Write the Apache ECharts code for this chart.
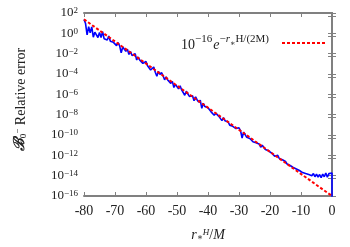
<!DOCTYPE html>
<html><head><meta charset="utf-8">
<script src="https://cdn.jsdelivr.net/npm/echarts@6/dist/echarts.min.js"></script>
<style>html,body{margin:0;padding:0;background:#fff}#c{width:350px;height:247px}</style>
</head><body><div id="c"></div>
<script>
// Blue: measured relative error
const blueX = [
 -80,-79.5,-79,-78.5,-78,-77.5,-77,-76.5,-76,-75.5,
 -75,-74.5,-74,-73.5,-73,-72.5,-72,-71.5,-71,-70.5,
 -70,-69.5,-69,-68.5,-68,-67.5,-67,-66.5,-66,-65.5,
 -65,-64.5,-64,-63.5,-63,-62.5,-62,-61.5,-61,-60.5,
 -60,-59.5,-59,-58.5,-58,-57.5,-57,-56.5,-56,-55.5,
 -55,-54.5,-54,-53.5,-53,-52.5,-52,-51.5,-51,-50.5,
 -50,-49.5,-49,-48.5,-48,-47.5,-47,-46.5,-46,-45.5,
 -45,-44.5,-44,-43.5,-43,-42.5,-42,-41.5,-41,-40.5,
 -40,-39.5,-39,-38.5,-38,-37.5,-37,-36.5,-36,-35.5,
 -35,-34.5,-34,-33.5,-33,-32.5,-32,-31.5,-31,-30.5,
 -30,-29.5,-29,-28.5,-28,-27.5,-27,-26.5,-26,-25.5,
 -25,-24.5,-24,-23.5,-23,-22.5,-22,-21.5,-21,-20.5,
 -20,-19.5,-19,-18.5,-18,-17.5,-17,-16.5,-16,-15.5,
 -15,-14.5,-14,-13.5,-13,-12.5,-12,-11.5,-11,-10.5,
 -10,-9.5,-9,-8.5,-8,-7.5,-7,-6.5,-6,-5.5,
 -5,-4.5,-4,-3.5,-3,-2.5,-2,-1.5,-1,-0.5,0,
 0
];
const blueY = [
 23,9.1,0.71,4.5,1.1,4.3,0.42,1.3,1.6,0.39,
 1.2,0.38,1.5,0.29,0.45,0.22,0.54,0.17,0.26,0.13,
 0.18,0.062,0.12,0.059,0.012,0.046,0.056,0.017,0.027,0.0083,
 0.016,0.0065,0.0079,0.0098,0.0024,0.0047,0.0023,0.0035,0.0011,0.0014,
 1.7e-3,6.6e-4,8.1e-4,2.5e-4,3.9e-4,4.9e-4,1.5e-4,5.9e-5,1.8e-4,8.9e-5,
 1.4e-4,6.8e-5,2.7e-5,5.2e-5,2.6e-5,4.0e-5,1.2e-5,1.9e-5,4.7e-6,9.3e-6,
 9.1e-6,3.5e-6,6.9e-6,2.7e-6,2.6e-6,8.1e-7,2.0e-6,2.0e-6,6.2e-7,7.6e-7,
 7.4e-7,2.3e-7,5.6e-7,2.8e-7,1.7e-7,2.7e-7,4.2e-8,1.3e-7,6.3e-8,7.8e-8,
 4.9e-8,6.0e-8,1.9e-8,2.9e-8,8.9e-9,1.4e-8,1.7e-8,6.8e-9,8.3e-9,2.6e-9,
 5.0e-9,2.5e-9,3.8e-9,1.9e-9,9.3e-10,1.4e-9,7.1e-10,1.1e-9,4.3e-10,4.2e-10,
 5.1e-10,2.6e-10,5.0e-11,1.9e-10,1.9e-10,5.9e-11,9.1e-11,4.5e-11,5.6e-11,2.2e-11,
 3.4e-11,1.7e-11,2.6e-11,1.3e-11,6.2e-12,9.8e-12,7.6e-12,3.7e-12,5.8e-12,2.8e-12,
 3.5e-12,1.7e-12,2.1e-12,8.3e-13,1.0e-12,1.0e-12,4.9e-13,6.0e-13,3.7e-13,3.7e-13,
 2.5e-13,1.4e-13,1.8e-13,1.0e-13,1.1e-13,6.3e-14,7.9e-14,4.5e-14,5.6e-14,3.2e-14,
 3.5e-14,2.0e-14,2.8e-14,1.6e-14,2.2e-14,1.3e-14,1.8e-14,1.0e-14,1.6e-14,7.9e-15,
 1.4e-14,7.1e-15,1.3e-14,6.3e-15,1.4e-14,7.9e-15,1.8e-14,7.1e-15,1.6e-14,1.1e-14,1.8e-14,
 1e-18
];
// Red: reference line 1e-16 exp(-r/(2M)) (straight on log axis), endpoints
const redX = [-80, 0];
const redY = [23.5, 1e-16];

const SERIF = '"Liberation Serif","DejaVu Serif",serif';
const frame = '#808080';
const TXT = '#222';
const chart = echarts.init(document.getElementById('c'), null, {renderer:'canvas'});
const blueData = blueX.map((x,i)=>[x, blueY[i]]);
const redData = redX.map((x,i)=>[x, redY[i]]);

function yFmt(v){
  const e = Math.round(Math.log10(v));
  return '{b|10}{s|' + (e<0 ? '\u2212'+(-e) : e) + '}';
}
const yRich = {
  b:{fontFamily:SERIF,fontSize:13,color:TXT,lineHeight:13,padding:[5,0,0,0],verticalAlign:'bottom'},
  s:{fontFamily:SERIF,fontSize:9,color:TXT,lineHeight:9,verticalAlign:'top'}
};
const legName = 'ref';
chart.setOption({
  animation:false,
  grid:{left:72,right:18,top:13,bottom:51},
  legend:{
    data:[legName], right:24, top:32, padding:0, align:'right', itemWidth:43, itemHeight:10,
    itemStyle:{opacity:0},
    formatter:()=> '{n|10}{s|\u221216}{e|e}{s|\u2212}{si|r}{ss|\u2217}{s|H}{s|/(2M)}',
    textStyle:{rich:{
      n:{fontFamily:SERIF,fontSize:14,color:TXT,lineHeight:14,padding:[6,0,0,0],verticalAlign:'bottom'},
      e:{fontFamily:SERIF,fontSize:14,fontStyle:'italic',color:TXT,lineHeight:14,padding:[6,0,0,1],verticalAlign:'bottom'},
      s:{fontFamily:SERIF,fontSize:11,color:TXT,lineHeight:11,verticalAlign:'top'},
      si:{fontFamily:SERIF,fontSize:11,fontStyle:'italic',color:TXT,lineHeight:11,verticalAlign:'top'},
      ss:{fontFamily:SERIF,fontSize:8,color:TXT,lineHeight:18,verticalAlign:'top',padding:[6,0,0,0]}
    }, padding:[0,8,0,0]}
  },
  xAxis:[{
    type:'value', min:-80, max:0, interval:10, position:'bottom',
    axisLine:{lineStyle:{color:frame,width:2}},
    axisTick:{inside:true,length:4,lineStyle:{color:frame,width:1}},
    splitLine:{show:false},
    axisLabel:{fontFamily:SERIF,fontSize:14,color:TXT,margin:8,formatter:v=>String(v)},
    name:'{i|r}{ss|\u2217}{sp|H}{n|/}{i|M}', nameLocation:'middle', nameGap:30,
    nameTextStyle:{rich:{
      i:{fontFamily:SERIF,fontSize:14,fontStyle:'italic',color:TXT,lineHeight:14,padding:[5,0,0,0],verticalAlign:'bottom'},
      n:{fontFamily:SERIF,fontSize:14,color:TXT,lineHeight:14,padding:[5,0,0,0],verticalAlign:'bottom'},
      ss:{fontFamily:SERIF,fontSize:9,color:TXT,lineHeight:9,verticalAlign:'bottom'},
      sp:{fontFamily:SERIF,fontSize:9,fontStyle:'italic',color:TXT,lineHeight:9,verticalAlign:'top'}
    }}
  },{
    type:'value', min:-80, max:0, interval:10, position:'top',
    axisLine:{lineStyle:{color:frame,width:2}},
    axisTick:{inside:true,length:4,lineStyle:{color:frame,width:1}},
    axisLabel:{show:false}, splitLine:{show:false}
  }],
  yAxis:[{
    type:'log', logBase:10, min:1e-16, max:100, interval:2, position:'left',
    axisLine:{show:true,lineStyle:{color:frame,width:2}},
    axisTick:{show:true,inside:true,length:4,lineStyle:{color:frame,width:1}},
    minorTick:{show:true,splitNumber:2,length:4,lineStyle:{color:frame,width:1}},
    splitLine:{show:false},
    axisLabel:{formatter:yFmt,rich:yRich,margin:6},
    name:'{B|\u212C}{sb|0}{sp|\u2212}{t| Relative error}', nameLocation:'middle', nameGap:56, nameRotate:90,
    nameTextStyle:{padding:[0,0,0,10],rich:{
      B:{fontFamily:SERIF,fontSize:15,fontWeight:'bold',fontStyle:'italic',color:TXT,lineHeight:15,padding:[5,0,0,0],verticalAlign:'bottom'},
      sb:{fontFamily:SERIF,fontSize:9,color:TXT,lineHeight:9,verticalAlign:'bottom'},
      sp:{fontFamily:SERIF,fontSize:9,color:TXT,lineHeight:9,verticalAlign:'top'},
      t:{fontFamily:SERIF,fontSize:14,color:TXT,lineHeight:14,padding:[6,0,0,0],verticalAlign:'bottom'}
    }}
  },{
    type:'log', logBase:10, min:1e-16, max:100, interval:2, position:'right',
    axisLine:{show:true,lineStyle:{color:frame,width:2}},
    axisTick:{show:true,inside:true,length:4,lineStyle:{color:frame,width:1}},
    minorTick:{show:true,splitNumber:2,length:4,lineStyle:{color:frame,width:1}},
    axisLabel:{show:false}, splitLine:{show:false}
  }],
  series:[{
    name:'blue', type:'line', data:blueData, symbol:'none', clip:true,
    lineStyle:{color:'#0000ff',width:1.6}, itemStyle:{color:'#0000ff'}
  },{
    name:legName, type:'line', data:redData, symbol:'none', clip:true,
    lineStyle:{color:'#ff0000',width:2,type:[3,2]}, itemStyle:{color:'#ff0000'}
  }]
});
</script></body></html>
